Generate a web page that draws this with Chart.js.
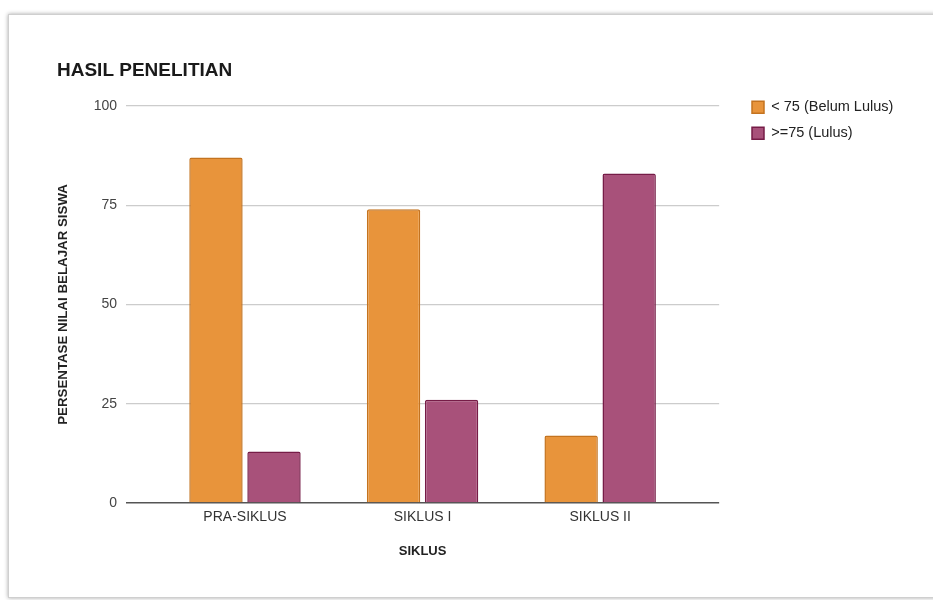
<!DOCTYPE html>
<html>
<head>
<meta charset="utf-8">
<script src="https://cdn.jsdelivr.net/npm/chart.js@4/dist/chart.umd.min.js"></script>
<style>
  html, body { margin: 0; padding: 0; background: #ffffff; width: 933px; height: 600px; overflow: hidden; }
  #card { position: absolute; left: 8px; top: 14px; width: 1000px; height: 582px; background: #fff;
          border: 1px solid #cfcfcf; box-shadow: 0 0 4px rgba(0,0,0,0.35); }
  #wrap { position: absolute; left: 0; top: 0; width: 933px; height: 600px; }
</style>
</head>
<body>
<div id="card"></div>
<div id="wrap"><canvas id="c" width="933" height="600"></canvas></div>
<script>
const categories = ["PRA-SIKLUS", "SIKLUS I", "SIKLUS II"];
const belumLulus = [87, 74, 17];
const lulus = [13, 26, 83];
const seriesNames = ["< 75 (Belum Lulus)", ">=75 (Lulus)"];
const yTicks = [0, 25, 50, 75, 100];
const chartTitle = "HASIL PENELITIAN";
const yTitle = "PERSENTASE NILAI BELAJAR SISWA";
const xTitle = "SIKLUS";

const FONT = "'Liberation Sans', Arial, sans-serif";

const legendShift = {
  id: 'legendShift',
  afterLayout(chart) {
    const lg = chart.legend;
    if (!lg) return;
    const pad = lg.options.labels.padding;
    lg.left = 752 - pad;
    lg.right = lg.left + lg.width;
    lg.top = 88.6;
    lg.bottom = lg.top + lg.height;
  }
};

new Chart(document.getElementById('c'), {
  type: 'bar',
  data: {
    datasets: [
      {
        label: seriesNames[0],
        data: belumLulus.map((v, i) => ({ x: i, y: v })),
        backgroundColor: '#E8943B',
        borderColor: '#C4731F',
        borderWidth: 1.5,
        borderRadius: 2,
        categoryPercentage: 0.6535,
        barPercentage: 0.92
      },
      {
        label: seriesNames[1],
        data: lulus.map((v, i) => ({ x: i, y: v })),
        backgroundColor: '#A8517A',
        borderColor: '#761C47',
        borderWidth: 1.5,
        borderRadius: 2,
        categoryPercentage: 0.6535,
        barPercentage: 0.92
      }
    ]
  },
  options: {
    responsive: false,
    animation: false,
    events: [],
    layout: { padding: { left: 57, right: 51, top: 0, bottom: 0 } },
    scales: {
      x: {
        type: 'linear',
        offset: false,
        min: -0.67,
        max: 2.67,
        afterBuildTicks(scale) { scale.ticks = categories.map((_, i) => ({ value: i })); },
        afterFit(scale) { scale.height = 97; },
        ticks: {
          callback: (v) => categories[v],
          color: '#333333',
          font: { family: FONT, size: 14 },
          padding: 6,
          maxRotation: 0,
          autoSkip: false
        },
        grid: { display: false, drawTicks: false, offset: false },
        border: { display: false },
        title: {
          display: true,
          text: xTitle,
          color: '#222222',
          font: { family: FONT, size: 13, weight: 'bold' },
          padding: { top: 4, bottom: 41 }
        }
      },
      y: {
        min: 0,
        max: 100,
        afterBuildTicks(scale) { scale.ticks = yTicks.map(v => ({ value: v })); },
        afterFit(scale) { scale.width = 69; },
        ticks: {
          color: '#444444',
          font: { family: FONT, size: 14 },
          padding: 9
        },
        grid: {
          drawTicks: false,
          color: (ctx) => ctx.tick && ctx.tick.value === 0 ? '#555555' : '#cccccc',
          lineWidth: (ctx) => ctx.tick && ctx.tick.value === 0 ? 1.5 : 1.2
        },
        border: { display: false },
        title: {
          display: true,
          text: yTitle,
          color: '#222222',
          font: { family: FONT, size: 13.3, weight: 'bold', lineHeight: 1 },
          padding: { top: 0, bottom: 0 }
        }
      }
    },
    plugins: {
      title: {
        display: true,
        text: chartTitle,
        align: 'start',
        color: '#1a1a1a',
        font: { family: FONT, size: 19, weight: 'bold' },
        padding: { top: 59, bottom: 24.2 }
      },
      legend: {
        position: 'right',
        align: 'start',
        labels: {
          boxWidth: 12,
          boxHeight: 12,
          padding: 11.5,
          color: '#222222',
          font: { family: FONT, size: 14.5 }
        }
      },
      tooltip: { enabled: false }
    }
  },
  plugins: [legendShift]
});
</script>
</body>
</html>
